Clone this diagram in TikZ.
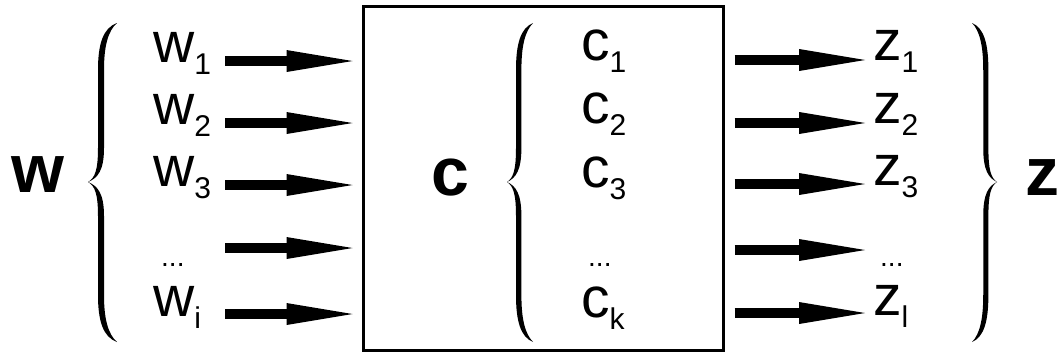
\documentclass[tikz,border=0pt]{standalone}
\usepackage{fontspec}
\setmainfont{Liberation Sans}
\usetikzlibrary{arrows.meta}
% lowered index, set in a smaller size
\newcommand\lowidx[1]{\raisebox{-12pt}{\fontsize{30}{30}\selectfont #1}}
\begin{document}
\begin{tikzpicture}[x=1pt,y=-1pt,
  lbl/.style={inner sep=0pt, anchor=base west, font=\fontsize{57}{57}\selectfont},
  setlbl/.style={inner sep=0pt, anchor=base west, font=\fontsize{68}{68}\selectfont\bfseries},
  dotlbl/.style={inner sep=0pt, anchor=base west, font=\fontsize{28}{28}\selectfont},
  fatarrow/.style={line width=10pt, -{Triangle[length=66pt,width=22pt,line width=0pt]}},
  curlybrace/.pic={
    % tapered curly brace, tip at the origin, opening to the right
    \fill (29,-159) .. controls (15,-154) and (10,-138) .. (10,-112)
      -- (10,-34) .. controls (10,-12) and (7,-4) .. (0,0)
      .. controls (10,-4) and (16,-12) .. (16,-34)
      -- (16,-112) .. controls (16,-136) and (20,-151) .. (29,-159) -- cycle;
    \fill (29,160) .. controls (15,155) and (10,139) .. (10,113)
      -- (10,34) .. controls (10,12) and (7,4) .. (0,0)
      .. controls (10,4) and (16,12) .. (16,34)
      -- (16,113) .. controls (16,137) and (20,152) .. (29,160) -- cycle;
  }
]
\useasboundingbox (0,0) rectangle (1063,356);

% the transformation block
\node[draw, line width=3pt, minimum width=360pt, minimum height=344pt, inner sep=0pt] (box) at (543,178) {};

% input side
\node[setlbl] (W) at (11,192) {w};
\pic at (88,182) {curlybrace};
\node[lbl] (w1) at (153,62) {w\lowidx{1}};
\node[lbl] (w2) at (153,124) {w\lowidx{2}};
\node[lbl] (w3) at (153,186) {w\lowidx{3}};
\node[dotlbl] (wd) at (161,266) {...};
\node[lbl] (wi) at (153,316) {w\lowidx{i}};

% inside the block
\node[setlbl] (C) at (431,195) {c};
\begin{scope}[shift={(507,182)}, xscale=0.9]
  \pic[transform shape] {curlybrace};
\end{scope}
\node[lbl] (c1) at (581,60) {c\lowidx{1}};
\node[lbl] (c2) at (581,123) {c\lowidx{2}};
\node[lbl] (c3) at (581,187) {c\lowidx{3}};
\node[dotlbl] (cd) at (588,266) {...};
\node[lbl] (ck) at (581,317) {c\lowidx{k}};

% output side
\node[lbl] (z1) at (873,60) {z\lowidx{1}};
\node[lbl] (z2) at (873,123) {z\lowidx{2}};
\node[lbl] (z3) at (873,185) {z\lowidx{3}};
\node[dotlbl] (zd) at (880,266) {...};
\node[lbl] (zl) at (873,315) {z\lowidx{l}};
\begin{scope}[shift={(997,182)}, xscale=-0.86]
  \pic[transform shape] {curlybrace};
\end{scope}
\node[setlbl] (Z) at (1025,195) {z};

% arrow rows
\coordinate (in1) at (225,61);
\coordinate (in2) at (225,123);
\coordinate (in3) at (225,185);
\coordinate (in4) at (225,248);
\coordinate (in5) at (225,314);
\coordinate (out1) at (865,60);
\coordinate (out2) at (865,123);
\coordinate (out3) at (865,184);
\coordinate (out4) at (865,250);
\coordinate (out5) at (865,313);

\foreach \k in {1,...,5} {
  \draw[fatarrow, shorten >=9pt] (in\k) -- (in\k -| box.west);
  \draw[fatarrow, shorten <=10pt] (box.east |- out\k) -- (out\k);
}
\end{tikzpicture}
\end{document}
